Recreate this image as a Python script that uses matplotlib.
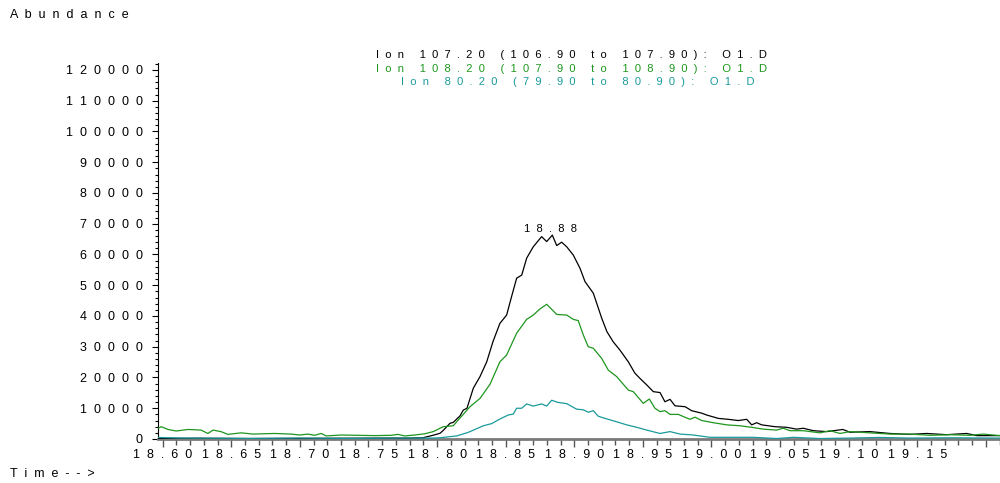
import matplotlib
matplotlib.use("Agg")
import matplotlib.pyplot as plt
from matplotlib.ticker import FixedLocator, MultipleLocator

plt.rcParams['font.family'] = ['Liberation Sans', 'DejaVu Sans']

# Ion 107.20 (black)
black_t = [18.5966, 18.6272, 18.6636, 18.7000, 18.7365, 18.7657, 18.7802, 18.7897, 18.7970, 18.8021,
           18.8043, 18.8094, 18.8118, 18.8167, 18.8191, 18.8218, 18.8264, 18.8313, 18.8362, 18.8407,
           18.8458, 18.8507, 18.8543, 18.8580, 18.8617, 18.8653, 18.8701, 18.8762, 18.8799, 18.8840,
           18.8872, 18.8908, 18.8945, 18.8993, 18.9042, 18.9078, 18.9139, 18.9200, 18.9238, 18.9284,
           18.9333, 18.9394, 18.9442, 18.9479, 18.9528, 18.9576, 18.9625, 18.9661, 18.9698, 18.9734,
           18.9808, 18.9856, 18.9929, 18.9965, 19.0050, 19.0122, 19.0195, 19.0257, 19.0293, 19.0329,
           19.0366, 19.0463, 19.0548, 19.0621, 19.0669, 19.0742, 19.0840, 19.0958, 19.1009, 19.1155,
           19.1301, 19.1447, 19.1569, 19.1714, 19.1860, 19.1933, 19.2103]
black_y = [200, 250, 150, 200, 250, 300, 300, 400, 1200, 1850,
           2700, 5100, 5400, 7500, 9400, 10000, 16500, 20300, 25100, 31600,
           37600, 40300, 46300, 52300, 53300, 58800, 62500, 65800, 64200, 66300,
           62900, 64000, 62500, 59800, 55500, 51200, 47400, 39300, 34900, 31600,
           28900, 25100, 21400, 19700, 17600, 15400, 15100, 12100, 12900, 10800,
           10500, 9200, 8400, 7800, 6700, 6400, 6000, 6400, 4600, 5300,
           4600, 4000, 3800, 3200, 3500, 2700, 2400, 3100, 2200, 2400,
           1800, 1500, 1800, 1400, 1800, 1100, 1100]

# Ion 108.20 (green)
green_t = [18.5966, 18.5990, 18.6039, 18.6099, 18.6184, 18.6279, 18.6330, 18.6367, 18.6425, 18.6476,
           18.6571, 18.6658, 18.6816, 18.6935, 18.6999, 18.7059, 18.7108, 18.7156, 18.7192, 18.7302,
           18.7423, 18.7545, 18.7666, 18.7715, 18.7764, 18.7837, 18.7910, 18.7972, 18.8045, 18.8118,
           18.8143, 18.8240, 18.8313, 18.8386, 18.8458, 18.8507, 18.8580, 18.8653, 18.8701, 18.8750,
           18.8799, 18.8872, 18.8945, 18.8993, 18.9029, 18.9066, 18.9102, 18.9139, 18.9200, 18.9248,
           18.9309, 18.9394, 18.9430, 18.9503, 18.9547, 18.9588, 18.9625, 18.9661, 18.9698, 18.9758,
           18.9843, 18.9880, 18.9929, 19.0013, 19.0111, 19.0208, 19.0293, 19.0378, 19.0475, 19.0523,
           19.0572, 19.0669, 19.0791, 19.0864, 19.0937, 19.1009, 19.1155, 19.1301, 19.1447, 19.1593,
           19.1739, 19.1885, 19.1981, 19.2103]
green_y = [3500, 4000, 3100, 2600, 3100, 2900, 1800, 2900, 2400, 1500,
           2000, 1600, 1800, 1600, 1300, 1600, 1200, 1800, 1000, 1300,
           1200, 1100, 1200, 1500, 1000, 1300, 1700, 2400, 4000, 4300,
           5600, 10500, 13200, 17800, 25100, 27300, 34400, 38900, 40300, 42300,
           43800, 40500, 40300, 38900, 38500, 33800, 30000, 29500, 26200, 22400,
           20300, 15900, 15400, 11600, 13000, 10000, 8900, 9200, 8000, 8000,
           6400, 7100, 6000, 5300, 4600, 4300, 3800, 3200, 2900, 3500,
           2700, 2700, 2000, 2700, 1800, 2400, 2000, 1600, 1600, 1200,
           1400, 1200, 1600, 1100]

# Ion 80.20 (teal)
teal_t = [18.5966, 18.6126, 18.6636, 18.7000, 18.7365, 18.7729, 18.7970, 18.8021, 18.8143, 18.8216,
          18.8240, 18.8337, 18.8398, 18.8458, 18.8519, 18.8555, 18.8580, 18.8617, 18.8653, 18.8701,
          18.8762, 18.8799, 18.8835, 18.8881, 18.8945, 18.9017, 18.9066, 18.9102, 18.9139, 18.9175,
          18.9224, 18.9309, 18.9382, 18.9455, 18.9528, 18.9625, 18.9698, 18.9771, 18.9867, 18.9989,
          19.0159, 19.0305, 19.0475, 19.0596, 19.0791, 19.1009, 19.1228, 19.1447, 19.1739, 19.2103]
teal_y = [500, 300, 200, 300, 200, 300, 300, 400, 1000, 2000,
          2400, 4300, 5000, 6500, 7800, 8100, 10000, 10000, 11400, 10700,
          11400, 10700, 12600, 11900, 11500, 9700, 9500, 8700, 9200, 7400,
          6700, 5600, 4600, 3800, 2900, 1800, 2400, 1600, 1300, 550,
          550, 550, 150, 550, 150, 300, 500, 300, 400, 300]

x_ticks = [18.60, 18.65, 18.70, 18.75, 18.80, 18.85, 18.90, 18.95, 19.00, 19.05, 19.10, 19.15, 19.20]
x_labels = ['18.60', '18.65', '18.70', '18.75', '18.80', '18.85', '18.90', '18.95',
            '19.00', '19.05', '19.10', '19.15', '']
y_ticks = [0, 10000, 20000, 30000, 40000, 50000, 60000, 70000, 80000, 90000, 100000, 110000, 120000]

titles = ['Ion 107.20 (106.90 to 107.90): O1.D',
          'Ion 108.20 (107.90 to 108.90): O1.D',
          'Ion 80.20 (79.90 to 80.90): O1.D']
peak_t, peak_y, peak_label = 18.8840, 66300, '18.88'

BLACK = '#000000'
GREEN = '#1e961e'
TEAL = '#1a9a9c'
FS = 9
FS_T = 8


def spaced(s):
    # the instrument printout spreads every character out
    return '  '.join(s)


fig = plt.figure(figsize=(10, 4.83), dpi=100)
ax = fig.add_axes([0.158, 0.0911, 0.842, 0.7785])

ax.plot(black_t, black_y, color=BLACK, lw=0.9, zorder=3)
ax.plot(green_t, green_y, color=GREEN, lw=0.9, zorder=3)
ax.plot(teal_t, teal_y, color=TEAL, lw=0.9, zorder=3)

ax.set_xlim(18.5966, 19.2103)
ax.set_ylim(0, 122276)

ax.xaxis.set_major_locator(FixedLocator(x_ticks))
ax.set_xticklabels([spaced(l) for l in x_labels], fontsize=FS)
ax.xaxis.set_minor_locator(MultipleLocator(0.01))
ax.yaxis.set_major_locator(FixedLocator(y_ticks))
ax.set_yticklabels([spaced(str(v)) for v in y_ticks], fontsize=FS)
ax.yaxis.set_minor_locator(MultipleLocator(2000))

ax.tick_params(axis='x', which='major', direction='out', length=6, width=1, color='#555555', pad=1.5)
ax.tick_params(axis='x', which='minor', direction='out', length=4, width=1, color='#555555')
ax.tick_params(axis='y', which='major', direction='out', length=4, width=0.8, color='black', pad=7)
ax.tick_params(axis='y', which='minor', direction='out', length=2, width=0.8, color='black')

for s in ['top', 'right']:
    ax.spines[s].set_visible(False)
ax.spines['bottom'].set_color('#7a7a7a')
ax.spines['bottom'].set_linewidth(2)
ax.spines['left'].set_linewidth(0.8)

ax.annotate(spaced(peak_label), xy=(peak_t, peak_y), xytext=(-1, 1), textcoords='offset points',
            ha='center', va='bottom', fontsize=FS_T)

fig.text(0.571, 1 - 55 / 483, spaced(titles[0]), color=BLACK, ha='center', va='center', fontsize=FS_T)
fig.text(0.571, 1 - 69 / 483, spaced(titles[1]), color=GREEN, ha='center', va='center', fontsize=FS_T)
fig.text(0.578, 1 - 82 / 483, spaced(titles[2]), color=TEAL, ha='center', va='center', fontsize=FS_T)

fig.text(0.010, 1 - 15 / 483, spaced('Abundance'), ha='left', va='center', fontsize=FS)
fig.text(0.010, 1 - 474 / 483, spaced('Time-->'), ha='left', va='center', fontsize=FS)

fig.savefig('out.png', dpi=100)
